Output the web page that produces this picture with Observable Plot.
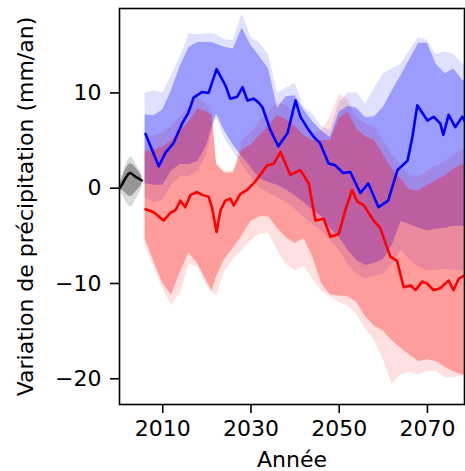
<!DOCTYPE html>
<html><head><meta charset="utf-8">
<script src="https://cdn.jsdelivr.net/npm/d3@7"></script>
<script src="https://cdn.jsdelivr.net/npm/@observablehq/plot@0.6"></script>
<style>
html,body{margin:0;padding:0;background:#fff}
svg{display:block}
</style>
</head><body><div id="chart"></div>
<script>
// ---- Data ----
const xTicks = [2010, 2030, 2050, 2070];
const yTicks = [-20, -10, 0, 10];

// Historical (black line with gray bands)
const histYears = [2000.2, 2000.8, 2001.5, 2002.2, 2002.7, 2003.3, 2003.8, 2004.6, 2005.3];
const histMean  = [0.0, 0.4, 1.0, 1.5, 1.6, 1.4, 1.2, 1.0, 0.8];
const histOuterLo = [-0.2, -0.6, -1.3, -1.8, -2.0, -1.8, -1.3, -0.6, 0.1];
const histOuterHi = [0.2, 1.3, 2.3, 3.0, 3.3, 3.1, 2.6, 2.0, 1.5];
const histInnerLo = [-0.1, -0.2, -0.5, -0.8, -0.9, -0.7, -0.4, 0.0, 0.4];
const histInnerHi = [0.1, 1.0, 1.9, 2.4, 2.6, 2.4, 2.2, 1.7, 1.2];

// Scenario bands (common year grid)
const bandYears = [2006,2008,2010,2012,2014,2016,2018,2020,2021.2,2022.2,2024,2026,2028,2030,2032,2034,2036,2038,2040,2042,2044,2046,2048,2050,2052,2054,2056,2058,2060,2062,2064,2066,2068,2070,2072,2074,2076,2078,2080];
const blueOuterHi = [10.0,10.2,10.0,11.8,13.8,16.2,16.1,16.2,16.2,16.1,15.6,15.5,18.3,15.9,15.2,14.0,10.0,10.5,11.0,8.5,7.8,6.5,6.0,9.0,10.0,10.0,8.8,10.5,12.0,12.5,13.0,14.5,15.8,15.5,14.0,14.3,14.0,13.0,13.0];
const blueInnerHi = [7.7,7.6,8.2,10.3,12.8,14.8,15.3,15.3,15.3,15.1,14.8,14.6,16.8,15.0,13.8,12.5,8.4,9.6,9.7,8.2,7.0,6.0,5.3,8.0,8.6,8.4,7.4,7.5,8.5,10.2,11.8,13.5,15.2,15.2,13.0,12.0,12.5,11.3,11.3];
const blueInnerLo = [0.5,0.3,0.3,1.8,2.5,2.5,2.8,4.5,6.5,7.8,6.0,4.5,3.3,2.2,1.0,0.6,0.3,-0.2,-0.8,-1.5,-2.3,-3.0,-4.2,-5.2,-6.5,-7.6,-8.1,-7.9,-7.5,-6.0,-3.5,-3.8,-4.2,-4.5,-4.3,-4.2,-4.0,-4.0,-4.0];
const blueOuterLo = [-1.0,-1.5,-1.3,0.3,1.2,1.2,1.8,3.5,6.0,7.4,5.2,3.8,2.5,1.2,0.0,-0.5,-1.0,-1.5,-2.2,-3.0,-3.8,-4.5,-5.5,-6.5,-8.0,-9.0,-9.5,-9.3,-9.0,-8.0,-6.5,-7.5,-8.3,-8.7,-8.6,-8.5,-8.6,-8.7,-8.7];
const redOuterHi = [5.3,5.5,5.8,6.5,7.5,8.5,9.5,8.8,8.0,2.7,1.8,1.8,5.0,5.8,7.0,8.0,9.0,8.7,8.0,6.5,5.8,6.0,7.5,9.8,9.3,7.4,6.8,6.4,5.0,3.5,2.5,1.3,1.2,1.8,2.3,2.8,3.5,4.0,4.0];
const redInnerHi = [3.8,4.0,4.3,5.0,6.0,7.0,8.3,8.0,7.6,2.5,1.6,1.6,4.0,4.5,5.5,6.5,7.6,7.2,6.5,5.5,5.0,5.0,5.0,7.3,8.0,6.2,5.4,5.0,3.5,2.0,1.0,-0.2,-0.3,0.3,0.8,1.3,2.0,2.5,2.5];
const redInnerLo = [-5.3,-7.7,-10.0,-11.2,-8.8,-6.8,-8.0,-9.8,-10.8,-9.3,-7.5,-6.3,-5.0,-3.5,-3.0,-3.0,-4.2,-5.2,-5.8,-5.3,-7.2,-10.0,-11.2,-11.3,-11.4,-12.0,-13.5,-14.5,-15.0,-16.0,-16.8,-17.5,-18.2,-18.0,-18.2,-18.8,-19.3,-19.6,-19.6];
const redOuterLo = [-6.0,-8.3,-10.5,-12.3,-11.0,-8.0,-8.3,-10.2,-11.0,-11.3,-8.8,-7.5,-6.5,-5.5,-4.8,-4.7,-6.5,-8.0,-8.7,-8.2,-9.5,-10.8,-11.4,-12.0,-12.4,-13.3,-14.8,-16.0,-18.0,-20.6,-19.6,-19.3,-19.6,-19.2,-19.2,-19.9,-19.9,-19.7,-19.7];

// Scenario means
const blueYears = [2006.1,2009.1,2010.6,2012.4,2014.4,2015.8,2017.0,2018.9,2020.4,2022.2,2024.2,2025.3,2026.9,2028.1,2029.2,2030.6,2031.7,2032.6,2034.4,2036.2,2038.3,2040.1,2041.2,2042.8,2044.2,2045.7,2047.6,2049.1,2050.9,2052.5,2054.8,2056.6,2058.9,2061.1,2063.2,2065.5,2066.6,2067.7,2070.0,2071.4,2072.9,2073.6,2074.8,2076.3,2077.9,2078.6];
const blueMean  = [5.7,2.3,3.7,4.7,6.8,7.9,9.5,10.1,10.0,12.5,10.8,9.4,9.6,10.6,9.2,9.4,9.0,8.5,6.1,4.4,5.8,9.2,7.5,6.3,5.4,4.7,2.6,2.4,1.6,1.7,-0.5,0.5,-2.0,-1.3,1.9,2.9,5.4,8.7,7.1,7.5,6.8,5.6,7.7,6.4,7.5,6.9];
const redYears = [2006.1,2007.9,2010.2,2011.7,2012.9,2014.0,2015.1,2016.3,2017.8,2018.9,2020.4,2021.2,2022.2,2023.1,2024.2,2025.3,2026.1,2027.6,2029.1,2030.6,2032.1,2033.7,2035.2,2036.7,2038.9,2041.2,2043.1,2044.6,2046.5,2048.0,2049.9,2051.4,2052.9,2054.1,2055.6,2057.8,2059.3,2061.6,2063.1,2064.6,2066.2,2067.3,2068.8,2069.9,2071.4,2072.9,2074.8,2075.9,2077.1,2078.6];
const redMean  = [-2.2,-2.5,-3.4,-2.6,-2.3,-1.3,-2.0,-0.7,-0.4,-0.7,-0.9,-2.1,-4.6,-2.3,-1.3,-1.1,-1.8,-0.6,-0.2,0.5,1.4,2.4,2.6,3.8,1.4,1.9,0.5,-3.4,-3.2,-5.1,-4.8,-2.3,-0.2,-1.4,-1.8,-3.4,-4.2,-7.2,-7.6,-10.4,-10.2,-10.7,-9.8,-10.0,-10.7,-10.5,-9.7,-10.7,-9.5,-9.1];

// ---- Tables ----
const hist = histYears.map((x, i) => ({x, m: histMean[i], olo: histOuterLo[i], ohi: histOuterHi[i], ilo: histInnerLo[i], ihi: histInnerHi[i]}));
const bands = bandYears.map((x, i) => ({x,
  bOH: blueOuterHi[i], bIH: blueInnerHi[i], bIL: blueInnerLo[i], bOL: blueOuterLo[i],
  rOH: redOuterHi[i], rIH: redInnerHi[i], rIL: redInnerLo[i], rOL: redOuterLo[i]}));
const blue = blueYears.map((x, i) => ({x, y: blueMean[i]}));
const red = redYears.map((x, i) => ({x, y: redMean[i]}));

const FONT = "DejaVu Sans";
const chart = Plot.plot({
  width: 465,
  height: 471,
  marginLeft: 119,
  marginRight: 1,
  marginTop: 8,
  marginBottom: 67,
  style: {fontFamily: FONT, fontSize: "22px", color: "#000", background: "#fff"},
  x: {domain: [2000.2, 2078.4]},
  y: {domain: [-22.7, 18.86]},
  marks: [
    Plot.areaY(hist, {x: "x", y1: "olo", y2: "ohi", fill: "black", fillOpacity: 0.15}),
    Plot.areaY(hist, {x: "x", y1: "ilo", y2: "ihi", fill: "black", fillOpacity: 0.3}),
    Plot.areaY(bands, {x: "x", y1: "bOL", y2: "bOH", fill: "#0000ff", fillOpacity: 0.12, clip: true}),
    Plot.areaY(bands, {x: "x", y1: "rOL", y2: "rOH", fill: "#ff0000", fillOpacity: 0.12, clip: true}),
    Plot.areaY(bands, {x: "x", y1: "bIL", y2: "bIH", fill: "#0000ff", fillOpacity: 0.3, clip: true}),
    Plot.areaY(bands, {x: "x", y1: "rIL", y2: "rIH", fill: "#ff0000", fillOpacity: 0.3, clip: true}),
    Plot.line(hist, {x: "x", y: "m", stroke: "black", strokeWidth: 2.4}),
    Plot.line(blue, {x: "x", y: "y", stroke: "#0000ff", strokeWidth: 2.6, clip: true}),
    Plot.line(red, {x: "x", y: "y", stroke: "#ff0000", strokeWidth: 2.6, clip: true}),
    Plot.frame({stroke: "black", strokeWidth: 1.6}),
    Plot.axisX({ticks: xTicks, tickFormat: d => String(d), tickSize: 9, tickPadding: 7, strokeWidth: 1.6,
      label: "Année", labelAnchor: "center", labelArrow: false, labelOffset: 62}),
    Plot.axisY({ticks: yTicks, tickSize: 9, tickPadding: 9, strokeWidth: 1.6,
      label: "Variation de précipitation (mm/an)", labelAnchor: "center", labelArrow: false, labelOffset: 102})
  ]
});
document.getElementById("chart").appendChild(chart);
</script>
</body></html>
